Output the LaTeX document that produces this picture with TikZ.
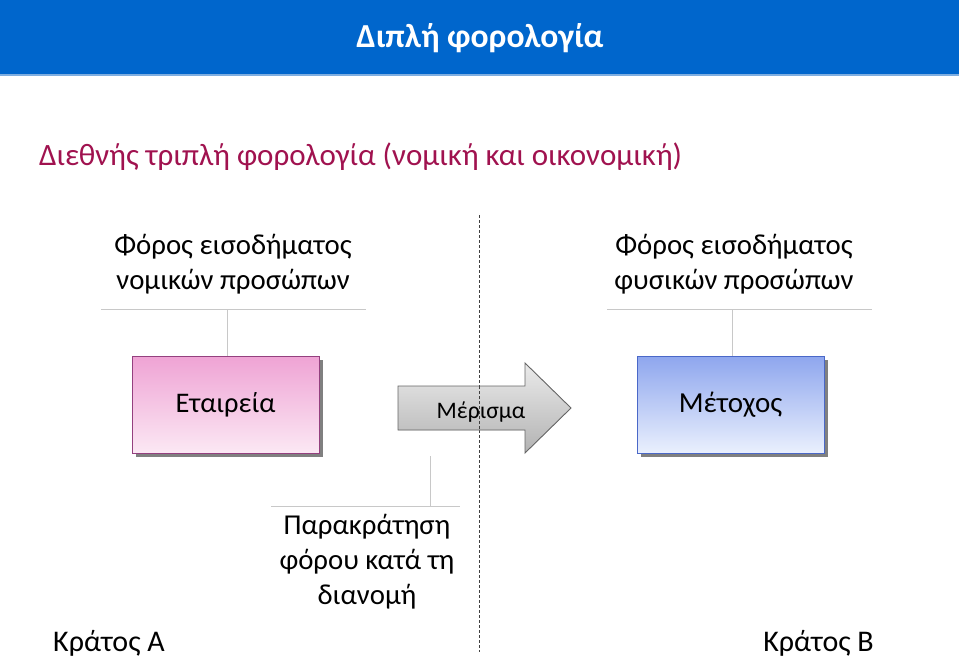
\documentclass[tikz,border=0pt]{standalone}
\usepackage{fontspec}
\setmainfont{Carlito}
\definecolor{hdrblue}{HTML}{0066CC}
\definecolor{hdrline}{HTML}{7FAEE0}
\definecolor{subred}{HTML}{A0124F}
\definecolor{pinktop}{HTML}{EFA3D4}
\definecolor{pinkbot}{HTML}{FBE8F4}
\definecolor{pinkedge}{HTML}{94407F}
\definecolor{bluetop}{HTML}{8EA6EE}
\definecolor{bluebot}{HTML}{EAF0FD}
\definecolor{blueedge}{HTML}{4A68C8}
\definecolor{treeline}{HTML}{C8C8C8}
\tikzset{
  lbl/.style={align=center, font=\fontsize{28.8}{35}\selectfont, text=black, inner sep=0pt},
  treel/.style={draw=treeline, line width=0.8pt},
  boxshadow/.style={fill=black!50},
  pinkbox/.style={draw=pinkedge, line width=1pt, top color=pinktop, bottom color=pinkbot},
  bluebox/.style={draw=blueedge, line width=1pt, top color=bluetop, bottom color=bluebot},
}
\begin{document}
\begin{tikzpicture}[x=1pt,y=-1pt]
\useasboundingbox (0,0) rectangle (959,659);
% header
\fill[hdrblue] (0,0) rectangle (959,74);
\fill[hdrline] (0,74) rectangle (959,76);
\node[font=\fontsize{33.6}{40}\selectfont\bfseries, text=white, inner sep=0pt] (title) at (480,38) {Διπλή φορολογία};
% subtitle
\node[anchor=west, font=\fontsize{31}{36}\selectfont, text=subred, inner sep=0pt] (sub) at (39,157) {Διεθνής τριπλή φορολογία (νομική και οικονομική)};
% dashed divider
\coordinate (dtop) at (479,215);
\coordinate (dbot) at (479,652);
\draw[black!75, line width=0.9pt, dash pattern=on 3pt off 2pt] (dtop) -- (dbot);
% left top label
\node[lbl] (ltax) at (233,264) {Φόρος εισοδήματος\\νομικών προσώπων};
\coordinate (lhl) at (101,309);
\coordinate (lhr) at (366,309);
\coordinate (lvt) at (227,309);
\draw[treel] (lhl) -- (lhr);
% right top label
\node[lbl] (rtax) at (734,264) {Φόρος εισοδήματος\\φυσικών προσώπων};
\coordinate (rhl) at (607,309);
\coordinate (rhr) at (872,309);
\coordinate (rvt) at (732,309);
\draw[treel] (rhl) -- (rhr);
% boxes
\fill[boxshadow] (136,360) rectangle (323,457);
\node[pinkbox, minimum width=187pt, minimum height=97pt, inner sep=0pt, font=\fontsize{28.4}{32}\selectfont] (eta) at (225.5,404.5) {Εταιρεία};
\fill[boxshadow] (641,360) rectangle (828,457);
\node[bluebox, minimum width=187pt, minimum height=97pt, inner sep=0pt, font=\fontsize{29}{32}\selectfont] (met) at (730.5,404.5) {Μέτοχος};
\draw[treel] (lvt) -- (lvt |- eta.north);
\draw[treel] (rvt) -- (rvt |- met.north);
% arrow
\coordinate (a1) at (398,386);
\coordinate (a2) at (525,386);
\coordinate (a3) at (525,363);
\coordinate (a4) at (571,408);
\coordinate (a5) at (525,453);
\coordinate (a6) at (525,430);
\coordinate (a7) at (398,430);
\fill[black!45, shift={(3,3)}] (a1) -- (a2) -- (a3) -- (a4) -- (a5) -- (a6) -- (a7) -- cycle;
\draw[black!60, line width=0.9pt, top color=black!8, bottom color=black!30] (a1) -- (a2) -- (a3) -- (a4) -- (a5) -- (a6) -- (a7) -- cycle;
\draw[black!75, line width=0.9pt, dash pattern=on 3pt off 2pt] (479,386) -- (479,430);
\node[font=\fontsize{23.7}{28}\selectfont, inner sep=0pt] (mer) at (481,412) {Μέρισμα};
% bottom label
\coordinate (bvt) at (430,456);
\coordinate (bvb) at (430,506);
\coordinate (bhl) at (271,506);
\coordinate (bhr) at (460,506);
\draw[treel] (bvt) -- (bvb);
\draw[treel] (bhl) -- (bhr);
\node[lbl] (par) at (367,562) {Παρακράτηση\\φόρου κατά τη\\διανομή};
% states
\node[anchor=west, font=\fontsize{30}{36}\selectfont, inner sep=0pt] (ka) at (53,643) {Κράτος Α};
\node[anchor=east, font=\fontsize{30}{36}\selectfont, inner sep=0pt] (kb) at (874,643) {Κράτος Β};
\end{tikzpicture}
\end{document}
